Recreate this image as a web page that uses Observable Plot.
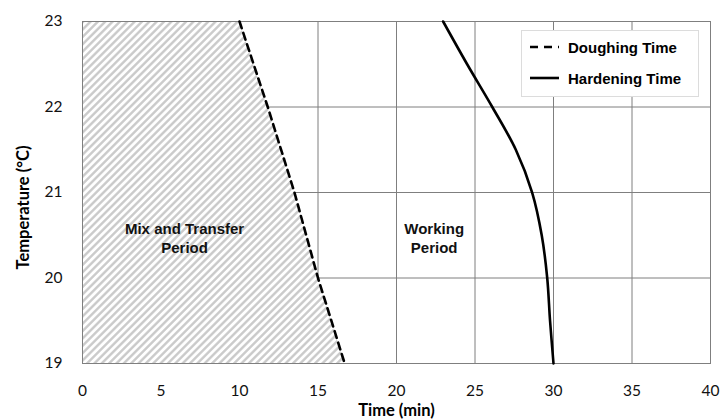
<!DOCTYPE html>
<html><head><meta charset="utf-8">
<script src="https://cdn.jsdelivr.net/npm/d3@7"></script>
<script src="https://cdn.jsdelivr.net/npm/@observablehq/plot@0.6"></script>
<style>
body{margin:0;background:#fff;}
#wrap{position:relative;width:720px;height:420px;}
#legend{position:absolute;left:521px;top:30px;width:178px;height:67px;border:1px solid #dcdcdc;background:#fff;box-sizing:border-box;
  font-family:"Liberation Sans",Arial,sans-serif;font-weight:bold;font-size:15px;color:#000;}
.row{position:absolute;left:8px;height:20px;display:flex;align-items:center;}
.row svg{margin-right:9px;}
</style></head><body><div id="wrap"><div id="legend"></div></div>
<script>
// Data
const doughTemp = [23, 22, 21, 20, 19];
const doughTime = [10, 11.8, 13.5, 15.0, 16.7];
const hardTemp = [23, 22.5, 22, 21.5, 21, 20.5, 20, 19.5, 19];
const hardTime = [22.97, 24.5, 26.1, 27.6, 28.64, 29.25, 29.6, 29.78, 30];
const xTicks = [0, 5, 10, 15, 20, 25, 30, 35, 40];
const yTicks = [19, 20, 21, 22, 23];
const regionLabels = ["Mix and Transfer\nPeriod", "Working\nPeriod"];
const regionX = [6.5, 22.4];
const regionY = [20.47, 20.47];
const seriesNames = ["Doughing Time", "Hardening Time"];
const xTitle = "Time (min)";
const yTitle = "Temperature (°C)";

const dough = doughTemp.map((t, i) => ({temp: t, time: doughTime[i]}));
const hard = hardTemp.map((t, i) => ({temp: t, time: hardTime[i]}));
const regions = regionLabels.map((text, i) => ({text, x: regionX[i], y: regionY[i]}));

const chart = Plot.plot({
  width: 720, height: 420,
  marginLeft: 82, marginRight: 10, marginTop: 21, marginBottom: 57,
  x: {domain: [0, 40]},
  y: {domain: [19, 23]},
  style: {fontFamily: "Lato, sans-serif", fontSize: "15px", color: "#000", background: "#fff"},
  marks: [
    Plot.gridX(xTicks, {stroke: "#7f7f7f", strokeOpacity: 1, strokeWidth: 1}),
    Plot.gridY(yTicks, {stroke: "#7f7f7f", strokeOpacity: 1, strokeWidth: 1}),
    Plot.areaX(dough, {y: "temp", x1: 0, x2: "time", fill: "url(#hatch)"}),
    Plot.frame({stroke: "#7f7f7f", strokeWidth: 1}),
    Plot.line(dough, {x: "time", y: "temp", stroke: "#000", strokeWidth: 2.6, strokeDasharray: "7,5"}),
    Plot.line(hard, {x: "time", y: "temp", stroke: "#000", strokeWidth: 2.6, curve: "catmull-rom"}),
    Plot.text(regions, {x: "x", y: "y", text: "text", fontFamily: "Liberation Sans, Arial, sans-serif",
      fontWeight: "bold", fontSize: 15, lineHeight: 1.27, fill: "#111"}),
    Plot.axisX(xTicks, {tickSize: 0, tickPadding: 21, label: null, fontSize: 15.5, fill: "#111", tickFormat: d3.format("d")}),
    Plot.axisY(yTicks, {tickSize: 0, tickPadding: 20, label: null, fontSize: 15.5, fill: "#111", tickFormat: d3.format("d")}),
    Plot.text([xTitle], {frameAnchor: "bottom", lineAnchor: "middle", dy: 47, fontWeight: "bold", fontSize: 16.5, fill: "#000"}),
    Plot.text([yTitle], {frameAnchor: "left", textAnchor: "middle", lineAnchor: "middle", dx: -59, dy: 15, rotate: -90, fontWeight: "bold", fontSize: 16.5, fill: "#000"})
  ]
});

const svg = d3.select(chart);
const defs = svg.insert("defs", ":first-child");
const pat = defs.append("pattern").attr("id", "hatch").attr("patternUnits", "userSpaceOnUse")
  .attr("width", 5.2).attr("height", 5.2).attr("patternTransform", "rotate(45)");
pat.append("rect").attr("width", 5.2).attr("height", 5.2).attr("fill", "#fff");
pat.append("line").attr("x1", 1.3).attr("y1", 0).attr("x2", 1.3).attr("y2", 5.2)
  .attr("stroke", "#c8c8c8").attr("stroke-width", 2.3);

document.getElementById("wrap").prepend(chart);

// Legend
const legend = d3.select("#legend");
seriesNames.forEach((name, i) => {
  const row = legend.append("div").attr("class", "row").style("top", (i === 0 ? 6 : 37) + "px");
  const s = row.append("svg").attr("width", 29).attr("height", 6);
  s.append("line").attr("x1", 0).attr("x2", 29).attr("y1", 3).attr("y2", 3)
    .attr("stroke", "#000").attr("stroke-width", 2.6)
    .attr("stroke-dasharray", i === 0 ? "8,6" : null);
  row.append("span").text(name);
});
</script></body></html>
